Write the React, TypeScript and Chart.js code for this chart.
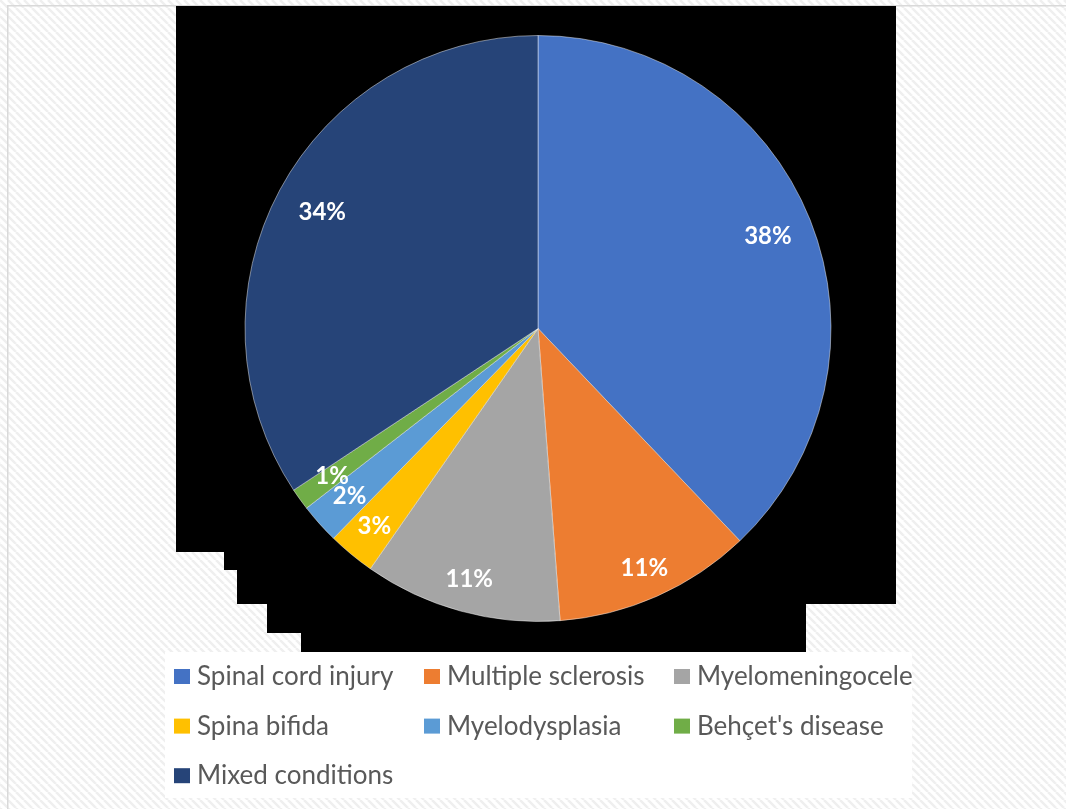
import React, { useEffect, useRef } from "react";
import { Chart, registerables } from "chart.js";

Chart.register(...registerables);

// ---- data ----
const categories = [
  "Spinal cord injury",
  "Multiple sclerosis",
  "Myelomeningocele",
  "Spina bifida",
  "Myelodysplasia",
  "Behçet's disease",
  "Mixed conditions",
];
const shares = [37.9, 10.9, 10.9, 2.6, 2.2, 1.2, 34.3];
const sliceColors = ["#4472C4", "#ED7D31", "#A5A5A5", "#FFC000", "#5B9BD5", "#70AD47", "#264478"];
// radial position (fraction of radius) of each percentage label
const labelRadius = [0.845, 0.894, 0.889, 0.876, 0.862, 0.865, 0.836];

// ---- decoration styles ----
const W = 1066;
const H = 809;
const blackShape: [number, number][] = [
  [176, 6], [896, 6], [896, 604], [806, 604], [806, 652], [301, 652], [301, 633],
  [267, 633], [267, 604], [237, 604], [237, 570], [224, 570], [224, 552], [176, 552],
];
const legendBox = { x: 165, y: 652, w: 747, h: 146 };
const legendFont = '26px Lato, "Open Sans", sans-serif';
const labelFont = 'bold 24px Lato, "Open Sans", sans-serif';

function makePattern(ctx: CanvasRenderingContext2D) {
  const c = document.createElement("canvas");
  c.width = 8;
  c.height = 8;
  const p = c.getContext("2d")!;
  p.fillStyle = "#ffffff";
  p.fillRect(0, 0, 8, 8);
  p.strokeStyle = "#efefef";
  p.lineWidth = 2.5;
  for (const off of [-8, 0, 8]) {
    p.beginPath();
    p.moveTo(off, 0);
    p.lineTo(off + 8, 8);
    p.stroke();
  }
  return ctx.createPattern(c, "repeat");
}

const backgroundPlugin = {
  id: "bgDecor",
  beforeDraw(chart: any) {
    const ctx: CanvasRenderingContext2D = chart.ctx;
    ctx.save();
    const pat = makePattern(ctx);
    ctx.fillStyle = pat || "#f7f7f7";
    ctx.fillRect(0, 0, W, H);
    // frame
    ctx.strokeStyle = "#d9d9d9";
    ctx.lineWidth = 1.5;
    ctx.beginPath();
    ctx.moveTo(7.75, H);
    ctx.lineTo(7.75, 5.75);
    ctx.lineTo(W, 5.75);
    ctx.stroke();
    // black backdrop
    ctx.fillStyle = "#000000";
    ctx.beginPath();
    blackShape.forEach(([x, y], i) => (i === 0 ? ctx.moveTo(x, y) : ctx.lineTo(x, y)));
    ctx.closePath();
    ctx.fill();
    // legend panel
    ctx.fillStyle = "#ffffff";
    ctx.fillRect(legendBox.x, legendBox.y, legendBox.w, legendBox.h);
    ctx.restore();
  },
};

const labelsPlugin = {
  id: "sliceLabels",
  afterDatasetsDraw(chart: any) {
    const ctx: CanvasRenderingContext2D = chart.ctx;
    const meta = chart.getDatasetMeta(0);
    const values: number[] = chart.data.datasets[0].data;
    const total = values.reduce((a, b) => a + b, 0);
    ctx.save();
    ctx.font = labelFont;
    ctx.fillStyle = "#ffffff";
    ctx.textAlign = "center";
    ctx.textBaseline = "middle";
    meta.data.forEach((arc: any, i: number) => {
      const { x, y, startAngle, endAngle, outerRadius } = arc.getProps(
        ["x", "y", "startAngle", "endAngle", "outerRadius"],
        true
      );
      const mid = (startAngle + endAngle) / 2;
      const r = outerRadius * labelRadius[i];
      const txt = `${Math.round((values[i] / total) * 100)}%`;
      ctx.fillText(txt, x + Math.cos(mid) * r, y + Math.sin(mid) * r);
    });
    ctx.restore();
  },
};

const legendPlugin = {
  id: "gridLegend",
  afterDraw(chart: any) {
    const ctx: CanvasRenderingContext2D = chart.ctx;
    const labels: string[] = chart.data.labels;
    const colors: string[] = chart.data.datasets[0].backgroundColor;
    ctx.save();
    ctx.font = legendFont;
    ctx.textAlign = "left";
    ctx.textBaseline = "alphabetic";
    labels.forEach((lab, i) => {
      const col = i % 3;
      const row = Math.floor(i / 3);
      const bx = 174 + col * 250;
      const base = 685 + row * 49.6;
      ctx.fillStyle = colors[i];
      ctx.fillRect(bx, base - 16, 16, 15);
      ctx.fillStyle = "#595959";
      ctx.fillText(lab, bx + 23, base);
    });
    ctx.restore();
  },
};

export default function App() {
  const ref = useRef<HTMLCanvasElement>(null);
  useEffect(() => {
    const chart = new Chart(ref.current!, {
      type: "pie",
      data: {
        labels: categories,
        datasets: [
          {
            data: shares,
            backgroundColor: sliceColors,
            borderColor: "rgba(255,255,255,0.45)",
            borderWidth: 1,
          },
        ],
      },
      options: {
        responsive: false,
        animation: false,
        devicePixelRatio: 1,
        layout: { padding: { left: 244.5, top: 35, right: 234.5, bottom: 187 } },
        plugins: {
          legend: { display: false },
          tooltip: { enabled: false },
        },
      },
      plugins: [backgroundPlugin, labelsPlugin, legendPlugin],
    });
    return () => chart.destroy();
  }, []);
  return (
    <div style={{ position: "absolute", left: 0, top: 0, width: W, height: H }}>
      <canvas ref={ref} width={W} height={H} style={{ display: "block", width: W, height: H }} />
    </div>
  );
}
